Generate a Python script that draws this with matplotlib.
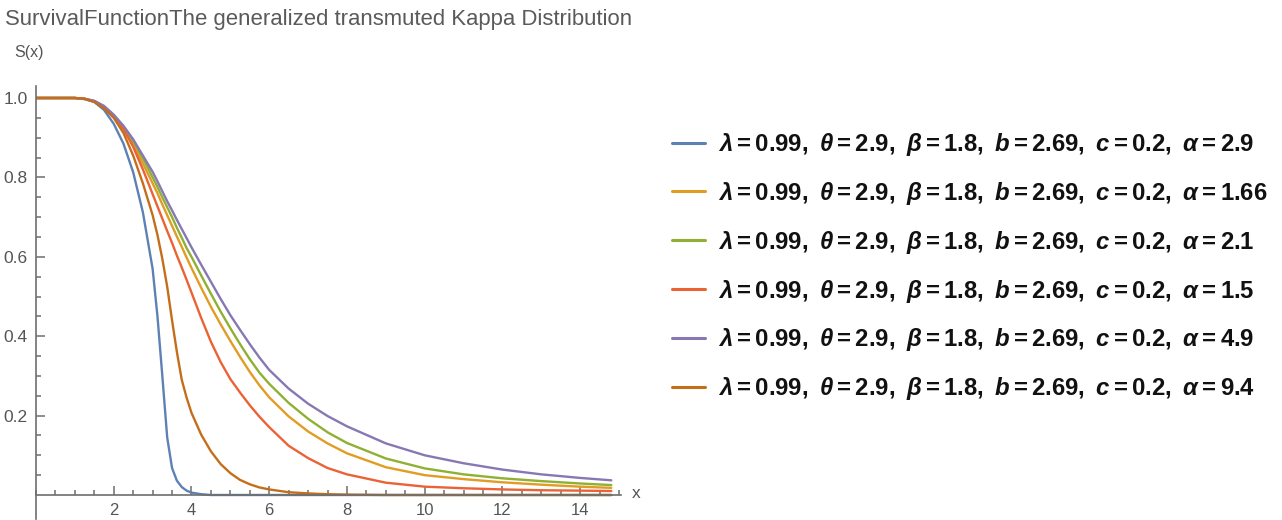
import matplotlib
matplotlib.use("Agg")
import matplotlib.pyplot as plt
from matplotlib.ticker import MultipleLocator, FixedLocator

# ---------------- data ----------------
x = [0, 0.5, 1, 1.25, 1.5, 1.75, 2, 2.25, 2.5, 2.75, 3, 3.125, 3.25, 3.375, 3.5,
     3.625, 3.75, 3.875, 4, 4.25, 4.5, 4.75, 5, 5.25, 5.5, 5.75, 6, 6.5, 7, 7.5,
     8, 9, 10, 11, 12, 13, 14, 14.8]

s_alpha_2_9 = [1, 1, 1, .997, .99, .97, .935, .885, .813, .712, .57, .45, .30, .145, .068,
               .036, .02, .011, .006, .002, 0, 0, 0, 0, 0, 0, 0, 0, 0, 0,
               0, 0, 0, 0, 0, 0, 0, 0]
s_alpha_1_66 = [1, 1, 1, .998, .992, .978, .955, .925, .885, .835, .785, .76, .732, .705, .678,
                .651, .625, .598, .572, .522, .474, .43, .388, .348, .31, .276, .246, .198, .16, .13,
                .105, .07, .05, .04, .032, .026, .021, .018]
s_alpha_2_1 = [1, 1, 1, .998, .992, .979, .956, .928, .892, .848, .80, .776, .75, .725, .70,
               .673, .648, .622, .60, .553, .507, .462, .42, .38, .342, .308, .28, .232, .192, .158,
               .131, .092, .067, .052, .042, .035, .029, .025]
s_alpha_1_5 = [1, 1, 1, .998, .991, .977, .955, .922, .877, .82, .758, .727, .696, .665, .635,
               .603, .573, .542, .51, .446, .386, .335, .292, .258, .226, .197, .171, .124, .093, .068,
               .052, .031, .021, .017, .014, .012, .011, .010]
s_alpha_4_9 = [1, 1, 1, .998, .993, .98, .958, .93, .896, .855, .814, .79, .765, .74, .717,
               .693, .67, .647, .624, .58, .537, .494, .453, .416, .38, .346, .315, .268, .23, .199,
               .173, .13, .10, .08, .064, .052, .043, .037]
s_alpha_9_4 = [1, 1, 1, .998, .99, .974, .95, .912, .855, .785, .705, .655, .595, .525, .44,
               .36, .29, .245, .207, .152, .11, .078, .055, .038, .027, .019, .014, .007, .004, .002,
               .001, 0, 0, 0, 0, 0, 0, 0]

series = [s_alpha_2_9, s_alpha_1_66, s_alpha_2_1, s_alpha_1_5, s_alpha_4_9, s_alpha_9_4]
alphas = ["2.9", "1.66", "2.1", "1.5", "4.9", "9.4"]
colors = ["#5E81B5", "#E19C24", "#8FB032", "#EB6235", "#8778B3", "#C56E1A"]

x_ticks = [2, 4, 6, 8, 10, 12, 14]
y_ticks = [0.2, 0.4, 0.6, 0.8, 1.0]
y_ticklabels = ["0.2", "0.4", "0.6", "0.8", "1.0"]

title = "SurvivalFunctionThe generalized transmuted Kappa Distribution"

# ---------------- fonts ----------------
font = "Liberation Sans"
plt.rcParams["mathtext.fontset"] = "custom"
plt.rcParams["mathtext.rm"] = font + ":bold"
plt.rcParams["mathtext.it"] = font + ":bold:italic"
plt.rcParams["mathtext.bf"] = font + ":bold"

W, H = 1282, 520
fig = plt.figure(figsize=(W / 100, H / 100), dpi=100)

# axes placement in pixels
x0_px, x1_px = 36, 621
ylo, yhi = -0.06, 1.03
y0_px = 495 + 0.06 * 397
y1_px = 495 - 1.03 * 397
ax = fig.add_axes([x0_px / W, 1 - y0_px / H, (x1_px - x0_px) / W, (y0_px - y1_px) / H])
ax.set_xlim(0, 15.05)
ax.set_ylim(ylo, yhi)

for s, a, c in zip(series, alphas, colors):
    lab = (r"$\lambda = 0.99,\ \theta = 2.9,\ \beta = 1.8,\ b = 2.69,\ c = 0.2,\ \alpha = %s$" % a)
    ax.plot(x, s, color=c, lw=1.7, label=lab, solid_capstyle="round", solid_joinstyle="round")

for side in ["top", "right"]:
    ax.spines[side].set_visible(False)
ax.spines["left"].set_position(("data", 0))
ax.spines["bottom"].set_position(("data", 0))
for side in ["left", "bottom"]:
    ax.spines[side].set_color("#6e6e6e")
    ax.spines[side].set_linewidth(1.2)
ax.patch.set_alpha(0)

ax.xaxis.set_major_locator(FixedLocator(x_ticks))
ax.xaxis.set_minor_locator(MultipleLocator(0.5))
ax.yaxis.set_major_locator(FixedLocator(y_ticks))
ax.yaxis.set_minor_locator(FixedLocator([i * 0.05 for i in range(1, 21)]))
ax.set_xticklabels([str(t) for t in x_ticks])
ax.set_yticklabels(y_ticklabels)
ax.tick_params(which="both", direction="in", colors="#6e6e6e", width=1.1)
ax.tick_params(which="major", length=6.5, labelcolor="#555555")
ax.tick_params(which="minor", length=3.5)
ax.tick_params(axis="x", pad=6, labelsize=12)
ax.tick_params(axis="y", pad=6, labelsize=12.5)
for lbl in ax.get_xticklabels() + ax.get_yticklabels():
    lbl.set_fontfamily(font)

fig.text(5 / W, 1 - 19 / H, title, fontsize=15.9, family=font,
         color="#5a5a5a", va="center", ha="left")
fig.text(14 / W, 1 - 52 / H, "S(x)", fontsize=11.5, family=font,
         color="#555555", va="center", ha="left")
fig.text(632 / W, 1 - 494 / H, "x", fontsize=12.5, family=font,
         color="#555555", va="center", ha="left")

fs = 17.2
leg = fig.legend(loc="upper left", bbox_to_anchor=(672 / W, 1 - 131 / H),
                 frameon=False, fontsize=fs, handlelength=1.38, handletextpad=0.55,
                 labelspacing=0.915, borderaxespad=0, borderpad=0)
for t in leg.get_texts():
    t.set_color("#111111")
for h in leg.legend_handles:
    h.set_linewidth(2.2)

fig.savefig("out.png", dpi=100)
